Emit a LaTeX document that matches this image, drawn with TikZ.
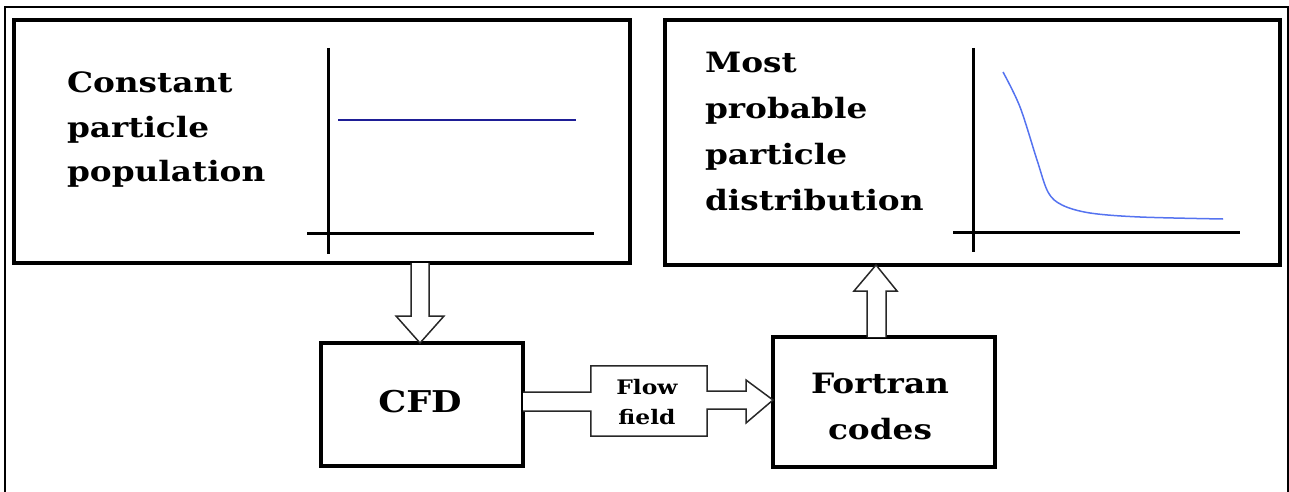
\documentclass[tikz,border=0pt]{standalone}
\usepackage{fontspec}
\setmainfont{DejaVu Serif}[FakeStretch=1.17]
\usetikzlibrary{calc}
\definecolor{navyline}{RGB}{30,30,150}
\definecolor{curveblue}{RGB}{85,115,240}
\definecolor{arrowgray}{RGB}{40,40,40}
\begin{document}
\begin{tikzpicture}[x=1pt,y=-1pt,
  box/.style={draw=black,line width=3.2pt,inner sep=0pt,outer sep=0pt},
  axis/.style={draw=black,line width=3pt},
  label/.style={inner sep=0pt,outer sep=0pt,align=left,font=\fontsize{28}{44.5}\selectfont\bfseries},
  blockarrow/.style={draw=arrowgray,line width=1.5pt,fill=white,line join=miter}]
\useasboundingbox (0,0) rectangle (1289,492);
% outer frame
\draw[line width=2.5pt] (5,7) rectangle (1288,500);
% top boxes
\node[box,minimum width=616pt,minimum height=243pt] (pop) at (322,141.5) {};
\node[box,minimum width=615pt,minimum height=245pt] (dist) at (972.5,142.5) {};
% bottom boxes
\node[box,minimum width=202pt,minimum height=123pt] (cfd) at (422,404.5) {};
\node[box,minimum width=222pt,minimum height=130pt] (fort) at (884,402) {};
% labels (base anchor = last line)
\node[label,anchor=base west] (poptext) at (67,182) {Constant\\particle\\population};
\node[label,anchor=base west,font=\fontsize{28}{46}\selectfont\bfseries] (disttext) at (705,210) {Most\\probable\\particle\\distribution};
\node[inner sep=0pt,font=\fontsize{30}{46}\selectfont\bfseries,anchor=base] (cfdtext) at ($(cfd.center |- 0,412)+(-2,0)$) {CFD};
\node[inner sep=0pt,align=center,font=\fontsize{28}{46}\selectfont\bfseries,anchor=base] (forttext) at (880,439) {Fortran\\codes};
% left plot
\draw[axis] (328,48) -- (328,254);
\draw[axis] (307,233) -- (594,233);
\draw[navyline,line width=2pt] (338,120) -- (576,120);
% right plot
\draw[axis] (973,48) -- (973,252);
\draw[axis] (953,232) -- (1240,232);
\draw[curveblue,line width=1.5pt] plot[smooth,tension=0.55] coordinates {(1003,72) (1020,107) (1037,160) (1048,192) (1062,205) (1090,213) (1140,217) (1223,219)};
% down arrow
\coordinate (dE) at ($(cfd.north)+(-2,0)$);
\coordinate (dS) at (dE |- pop.south);
\draw[blockarrow] ($(dS)+(-9,0)$) -- ($(dE)+(-9,-27)$) -- ($(dE)+(-24,-27)$) -- (dE) -- ($(dE)+(24,-27)$) -- ($(dE)+(9,-27)$) -- ($(dS)+(9,0)$);
% up arrow
\coordinate (uS) at ($(fort.north)+(-8,0)$);
\coordinate (uE) at (uS |- dist.south);
\draw[blockarrow] ($(uS)+(-9,0)$) -- ($(uE)+(-9,26)$) -- ($(uE)+(-22,26)$) -- (uE) -- ($(uE)+(21,26)$) -- ($(uE)+(10,26)$) -- ($(uS)+(10,0)$);
% flow field arrow
\node[inner sep=0pt,minimum width=116pt,minimum height=70pt] (flow) at (649,401) {};
\coordinate (tip) at (fort.west |- 0,400);
\draw[blockarrow] ($(cfd.east |- 0,392)$) -- (flow.west |- 0,392) -- (flow.north west) -- (flow.north east) -- (flow.east |- 0,391) -- (746,391) -- (746,380) -- (tip) -- (746,423) -- (746,409) -- (flow.east |- 0,409) -- (flow.south east) -- (flow.south west) -- (flow.west |- 0,411) -- ($(cfd.east |- 0,411)$);
\node[inner sep=0pt,align=center,font=\fontsize{20}{30}\selectfont\bfseries,anchor=base] (flowtext) at (647,424) {Flow\\field};
\end{tikzpicture}
\end{document}
